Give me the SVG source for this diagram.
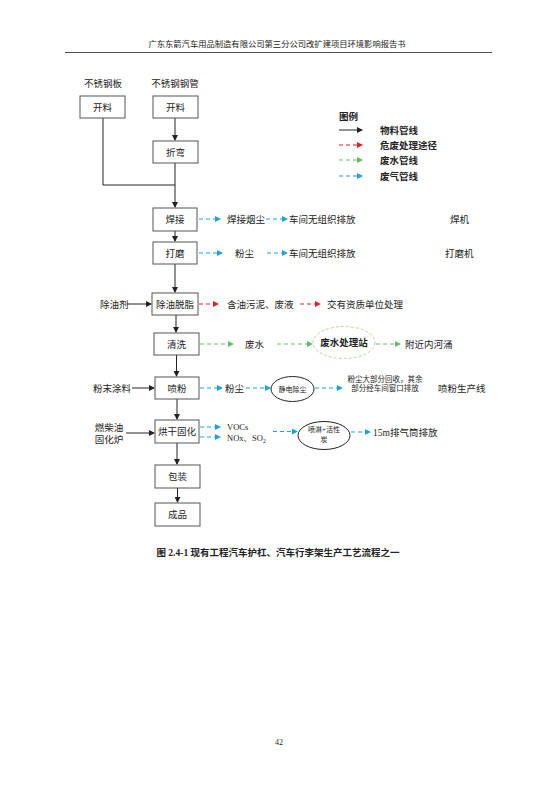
<svg xmlns="http://www.w3.org/2000/svg" width="556" height="786" viewBox="0 0 556 786">
<style>
text{font-family:"Liberation Serif","Noto Sans CJK SC",serif;fill:#222;font-size:9.5px}
.c{text-anchor:middle}
.b{font-weight:bold}
.box{fill:#fff;stroke:#555;stroke-width:1}
.ell{fill:#fff;stroke:#222;stroke-width:1}
.k{stroke:#222;stroke-width:1;fill:none}
.r{stroke:#e0202a;stroke-width:1;fill:none;stroke-dasharray:4 3}
.g{stroke:#66bb66;stroke-width:1;fill:none;stroke-dasharray:4 3}
.u{stroke:#1aa5d6;stroke-width:1;fill:none;stroke-dasharray:4 3}
</style>
<defs>
<marker id="ak" markerWidth="6" markerHeight="6" refX="5" refY="3" orient="auto" markerUnits="userSpaceOnUse"><path d="M0,0 L6,3 L0,6 Z" fill="#222"/></marker>
<marker id="ar" markerWidth="6" markerHeight="6" refX="5" refY="3" orient="auto" markerUnits="userSpaceOnUse"><path d="M0,0 L6,3 L0,6 Z" fill="#e0202a"/></marker>
<marker id="ag" markerWidth="6" markerHeight="6" refX="5" refY="3" orient="auto" markerUnits="userSpaceOnUse"><path d="M0,0 L6,3 L0,6 Z" fill="#66bb66"/></marker>
<marker id="au" markerWidth="6" markerHeight="6" refX="5" refY="3" orient="auto" markerUnits="userSpaceOnUse"><path d="M0,0 L6,3 L0,6 Z" fill="#1aa5d6"/></marker>
</defs>
<rect width="556" height="786" fill="#fff"/>
<g id="header">
<text x="277" y="47" class="c" style="font-size:8.3px">广东东箭汽车用品制造有限公司第三分公司改扩建项目环境影响报告书</text>
<line x1="65" y1="52.5" x2="492" y2="52.5" stroke="#222" stroke-width="0.8"/>
</g>
<g id="connectors">
<path class="k" d="M175,118 V140" marker-end="url(#ak)"/>
<path class="k" d="M103,118 V185 H175"/>
<path class="k" d="M175,163 V207" marker-end="url(#ak)"/>
<path class="k" d="M175,231 V241" marker-end="url(#ak)"/>
<path class="k" d="M175,264 V292" marker-end="url(#ak)"/>
<path class="k" d="M176,315 V332" marker-end="url(#ak)"/>
<path class="k" d="M176.5,355 V376" marker-end="url(#ak)"/>
<path class="k" d="M177,399 V419" marker-end="url(#ak)"/>
<path class="k" d="M177,443 V464" marker-end="url(#ak)"/>
<path class="k" d="M177.5,488 V502" marker-end="url(#ak)"/>
<path class="k" d="M127,304 H151" marker-end="url(#ak)"/>
<path class="k" d="M132,388 H154" marker-end="url(#ak)"/>
<path class="k" d="M126,433 H154" marker-end="url(#ak)"/>
<path class="u" d="M199,219 H220" marker-end="url(#au)"/>
<path class="u" d="M266,219 H287" marker-end="url(#au)"/>
<path class="u" d="M199,253 H222" marker-end="url(#au)"/>
<path class="u" d="M267,253 H287" marker-end="url(#au)"/>
<path class="r" d="M199,304 H218" marker-end="url(#ar)"/>
<path class="r" d="M300,304 H320" marker-end="url(#ar)"/>
<path class="g" d="M200,344 H233" marker-end="url(#ag)"/>
<path class="g" d="M277,344 H312" marker-end="url(#ag)"/>
<path class="g" d="M376,344 H400" marker-end="url(#ag)"/>
<path class="u" d="M200,388 H222" marker-end="url(#au)"/>
<path class="u" d="M246,388 H270" marker-end="url(#au)"/>
<path class="u" d="M315,388 H342" marker-end="url(#au)"/>
<path class="u" d="M200,427 H220" marker-end="url(#au)"/>
<path class="u" d="M200,437 H220" marker-end="url(#au)"/>
<path class="u" d="M273,431.5 H297" marker-end="url(#au)"/>
<path class="u" d="M351,432 H370" marker-end="url(#au)"/>
</g>
<g id="legend">
<text x="339" y="120" class="b">图例</text>
<path class="k" d="M339,130 H362" marker-end="url(#ak)"/>
<path class="r" d="M339,145 H362" marker-end="url(#ar)"/>
<path class="g" d="M339,160 H362" marker-end="url(#ag)"/>
<path class="u" d="M339,176 H362" marker-end="url(#au)"/>
<text x="380" y="133.5" class="b">物料管线</text>
<text x="380" y="148.5" class="b">危废处理途径</text>
<text x="380" y="163.5" class="b">废水管线</text>
<text x="380" y="179.5" class="b">废气管线</text>
</g>
<g id="n-input1"><text x="103" y="87" class="c">不锈钢板</text></g>
<g id="n-input2"><text x="175" y="87" class="c">不锈钢钢管</text></g>
<g id="n-kailiao1"><rect class="box" x="80" y="96" width="45" height="22"/><text x="102.5" y="110.5" class="c">开料</text></g>
<g id="n-kailiao2"><rect class="box" x="153" y="96" width="45" height="22"/><text x="175.5" y="110.5" class="c">开料</text></g>
<g id="n-zhewan"><rect class="box" x="153" y="141" width="45" height="22"/><text x="175.5" y="155.5" class="c">折弯</text></g>
<g id="n-hanjie"><rect class="box" x="153" y="208" width="44" height="23"/><text x="175" y="223" class="c">焊接</text></g>
<g id="n-damo"><rect class="box" x="153" y="242" width="44" height="22"/><text x="175" y="256.5" class="c">打磨</text></g>
<g id="n-chuyou"><rect class="box" x="152" y="293" width="46" height="22"/><text x="175" y="307.5" class="c">除油脱脂</text></g>
<g id="n-qingxi"><rect class="box" x="154" y="333" width="45" height="22"/><text x="176.5" y="347.5" class="c">清洗</text></g>
<g id="n-penfen"><rect class="box" x="155" y="377" width="44" height="22"/><text x="177" y="391.5" class="c">喷粉</text></g>
<g id="n-honggan"><rect class="box" x="155" y="420" width="44" height="23"/><text x="177" y="435" class="c">烘干固化</text></g>
<g id="n-baozhuang"><rect class="box" x="155" y="465" width="45" height="23"/><text x="177.5" y="480" class="c">包装</text></g>
<g id="n-chengpin"><rect class="box" x="155" y="503" width="45" height="23"/><text x="177.5" y="518" class="c">成品</text></g>
<g id="n-hanjieyanchen"><text x="227" y="222.5">焊接烟尘</text></g>
<g id="n-wuzuzhi1"><text x="289" y="222.5">车间无组织排放</text></g>
<g id="n-hanji"><text x="450" y="222.5">焊机</text></g>
<g id="n-fenchen1"><text x="235" y="256.5">粉尘</text></g>
<g id="n-wuzuzhi2"><text x="289" y="256.5">车间无组织排放</text></g>
<g id="n-damoji"><text x="445" y="256.5">打磨机</text></g>
<g id="n-chuyouji"><text x="100" y="307.5">除油剂</text></g>
<g id="n-hanyou"><text x="227" y="307.5">含油污泥、废液</text></g>
<g id="n-jiaoyou"><text x="327" y="307.5">交有资质单位处理</text></g>
<g id="n-feishui"><text x="245" y="347.5">废水</text></g>
<g id="n-wsz"><ellipse cx="344" cy="342.5" rx="31" ry="16" fill="#fff" stroke="#b5d6a0" stroke-width="1" stroke-dasharray="3 2"/><text x="344" y="346" class="c b">废水处理站</text></g>
<g id="n-hechong"><text x="405" y="347.5">附近内河涌</text></g>
<g id="n-fenmo"><text x="93" y="391.5">粉末涂料</text></g>
<g id="n-fenchen2"><text x="225" y="391.5">粉尘</text></g>
<g id="n-jingdian"><ellipse class="ell" cx="292.5" cy="389" rx="21.5" ry="12.5"/><text x="292.5" y="391.5" class="c" style="font-size:7px">静电除尘</text></g>
<g id="n-huishou"><text x="385" y="381.5" class="c" style="font-size:7.5px">粉尘大部分回收，其余</text><text x="385" y="391" class="c" style="font-size:7.5px">部分经车间窗口排放</text></g>
<g id="n-penfenxian"><text x="438" y="391.5">喷粉生产线</text></g>
<g id="n-chaiyou"><text x="109" y="430.5" class="c">燃柴油</text><text x="109" y="442.5" class="c">固化炉</text></g>
<g id="n-vocs"><text x="227" y="430" style="font-size:8.5px">VOCs</text></g>
<g id="n-nox"><text x="227" y="441" style="font-size:8.5px">NOx、SO<tspan style="font-size:6px" dy="2">2</tspan></text></g>
<g id="n-penlin"><ellipse class="ell" cx="324" cy="435.5" rx="26" ry="14"/><text x="324" y="432" class="c" style="font-size:7px">喷淋+活性</text><text x="324" y="442" class="c" style="font-size:7px">炭</text></g>
<g id="n-paiqitong"><text x="373" y="436">15m排气筒排放</text></g>
<g id="caption"><text x="278" y="556" class="c b">图 2.4-1 现有工程汽车护杠、汽车行李架生产工艺流程之一</text></g>
<g id="page"><text x="279" y="745" class="c" style="font-size:8px">42</text></g>
</svg>
